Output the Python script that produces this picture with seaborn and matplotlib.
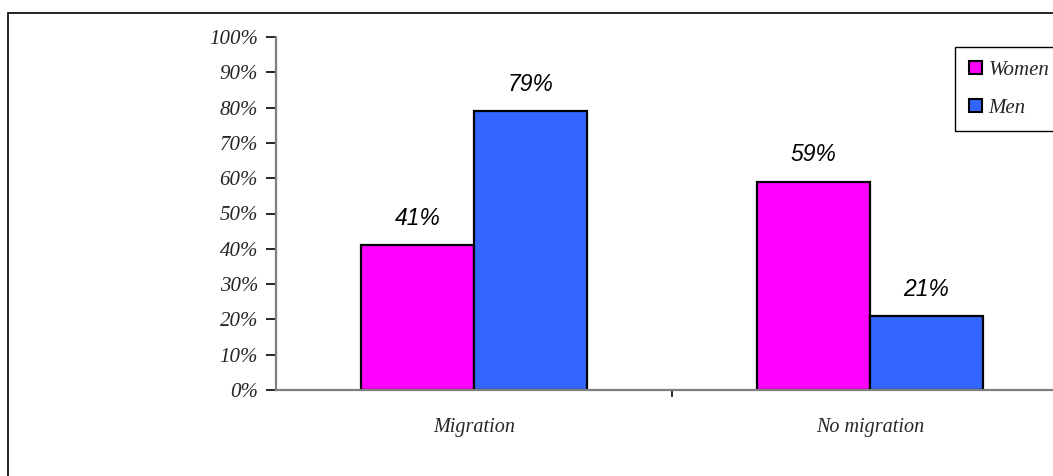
import matplotlib
matplotlib.use("Agg")
import matplotlib.pyplot as plt
import seaborn as sns
import pandas as pd
from matplotlib.patches import Rectangle, Patch

# Share of each gender by migration status
categories = ["Migration", "No migration"]
groups = ["Women", "Men"]
women = [41, 59]
men = [79, 21]
yticks = [0, 10, 20, 30, 40, 50, 60, 70, 80, 90, 100]

df = pd.DataFrame({
    "status": categories * 2,
    "group": [groups[0]] * len(categories) + [groups[1]] * len(categories),
    "value": women + men,
})

sns.set_theme(style="white")
plt.rcParams["font.family"] = ["Liberation Serif", "DejaVu Serif"]

W, H = 1053, 476
fig = plt.figure(figsize=(W / 100, H / 100), dpi=100)

# outer chart frame
fig.patches.append(Rectangle((8 / W, 0 - 0.01), 1.05, 1 - 13 / H + 0.01,
                             transform=fig.transFigure, fill=False,
                             edgecolor="black", linewidth=1.2, zorder=0))

ax = fig.add_axes([276 / W, (H - 390) / H, 792 / W, 353 / H])
palette = {"Women": "#FF00FF", "Men": "#3366FF"}
sns.barplot(data=df, x="status", y="value", hue="group", order=categories,
            hue_order=groups, palette=palette, width=0.57, gap=0,
            edgecolor="black", linewidth=1.6, saturation=1, legend=False, ax=ax)

for cont in ax.containers:
    ax.bar_label(cont, labels=[f"{v:.0f}%" for v in cont.datavalues],
                 padding=11, fontsize=16.5, fontstyle="italic",
                 family=["Liberation Sans", "DejaVu Sans"], color="black")

ax.set_xlim(-0.5, 1.5)
ax.set_ylim(0, 100)
ax.set_yticks(yticks)
ax.set_yticklabels([f"{t}%" for t in yticks], fontsize=15, fontstyle="italic")
ax.set_xticks([0, 1])
ax.set_xticklabels(categories, fontsize=14.5, fontstyle="italic")
ax.set_xticks([0.5], minor=True)
ax.tick_params(axis="x", which="major", length=0, pad=20)
ax.tick_params(axis="x", which="minor", length=5, width=1.2, color="black",
               direction="out", bottom=True)
ax.tick_params(axis="y", length=7, width=1.2, color="black", direction="out",
               left=True, pad=6)
ax.set_xlabel("")
ax.set_ylabel("")
ax.grid(False)
for s in ["top", "right"]:
    ax.spines[s].set_visible(False)
for s in ["left", "bottom"]:
    ax.spines[s].set_color("#7f7f7f")
    ax.spines[s].set_linewidth(1.6)

handles = [Patch(facecolor=palette[g], edgecolor="black", linewidth=1.5) for g in groups]
leg = fig.legend(handles, groups, loc="upper left",
                 bbox_to_anchor=(955 / W, 1 - 47 / H), bbox_transform=fig.transFigure,
                 frameon=True, fancybox=False, edgecolor="black", framealpha=1,
                 prop={"family": "Liberation Serif", "style": "italic", "size": 15},
                 handlelength=0.65, handleheight=0.65, handletextpad=0.3,
                 labelspacing=0.9, borderpad=0.65, borderaxespad=0)
leg.get_frame().set_linewidth(1.0)

fig.savefig("out.png", dpi=100)
